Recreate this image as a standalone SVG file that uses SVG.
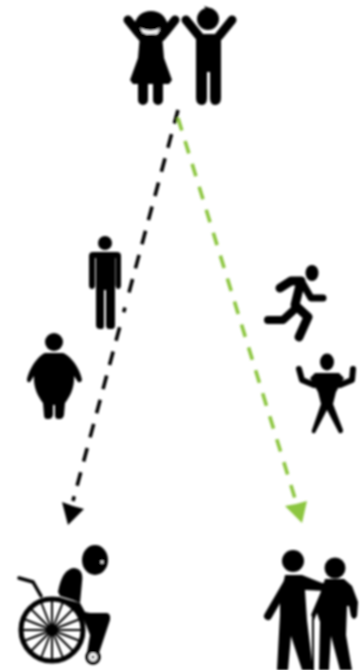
<svg xmlns="http://www.w3.org/2000/svg" width="363" height="670" viewBox="0 0 363 670">
<style>
.k{fill:#000}
.s{fill:none;stroke:#000;stroke-linecap:round;stroke-linejoin:round}
.d{fill:none;stroke-width:3.6}
</style>
<defs><filter id="b" x="-10%" y="-10%" width="120%" height="120%"><feGaussianBlur stdDeviation="0.9"/></filter></defs>
<rect width="363" height="670" fill="#fff"/>
<g id="connectors" filter="url(#b)">
<path class="d" stroke="#000" stroke-dasharray="14 11 14 11 14 11 14 11 14 11 14 11 14 11 14 15.5 5 15.5 14 11 14 11 14 11 14 11 14 11 14 11 14 11 14 11" d="M178 110L73 501"/>
<path class="k" d="M68 525L62 502L73 506L84 509Z"/>
<path class="d" stroke="#8cc63f" stroke-dasharray="13 11" d="M178 118L297 505"/>
<path fill="#8cc63f" d="M302 523L285 506L296 504L307 501Z"/>
</g>
<g id="children" filter="url(#b)">
<circle class="k" cx="151" cy="24" r="11"/>
<path class="k" d="M134 25Q138 11 151 11Q164 11 168 25L162 30H140Z"/>
<path class="s" stroke-width="9" d="M128 20L136 30L142 37M175 20L167 30L161 37"/>
<path class="k" d="M140 35H162L164 58L172 80L169 84H133L130 80L138 58Z"/>
<path fill="#fff" d="M140 28Q151 33 160 28L157 33Q151 35 143 33Z"/>
<path class="s" stroke-width="10" d="M143 82V100M158 82V100"/>
<circle class="k" cx="208" cy="19" r="11"/>
<path class="k" d="M204 6L213 9L209 14Z"/>
<path class="s" stroke-width="9" d="M186 20L199 36M232 20L219 36"/>
<path class="k" d="M196 34H221V98Q221 105 215 105Q210 105 210 98V72H207V98Q207 105 202 105Q196 105 196 98Z"/>
</g>
<g id="thin-man" filter="url(#b)">
<circle class="k" cx="105" cy="243" r="7"/>
<path class="k" d="M93 252Q89 252 89 256V285Q89 289 92 289Q95 289 95 285V258H96V325Q96 329 100 329H102Q104 329 104 325V290H106V325Q106 329 109 329H112Q115 329 115 325V258H115.500V285Q116 289 118 289Q121 289 121 285V256Q121 252 117 252Z"/>
</g>
<g id="fat-man" filter="url(#b)">
<circle class="k" cx="54" cy="342" r="9"/>
<path class="k" d="M45 353H63C73 357 81 372 82 380Q81 383 78 382L74 376C75 388 69 398 65 403L64 415Q63 419 60 419H58Q55 419 55 415V405H53V415Q52 419 49 419H47Q44 419 44 415L43 403C39 398 33 388 34 376L30 382Q27 383 27 380C28 372 36 357 45 353Z"/>
</g>
<g id="runner" filter="url(#b)">
<ellipse class="k" cx="312" cy="273" rx="6.500" ry="8"/>
<path class="s" stroke-width="9" d="M280 288L291 281H301L295 305L308 317L299 337"/>
<path class="s" stroke-width="7" d="M303 284L311 298H323"/>
<path class="s" stroke-width="8" d="M268 320H283L295 309"/>
</g>
<g id="strong-man" filter="url(#b)">
<ellipse class="k" cx="327" cy="362" rx="7" ry="8.500"/>
<path class="s" stroke-width="6" d="M299 369L302 380L314 385M353 369L352 380L340 385"/>
<path class="k" d="M315 373H339L344 378L336 392L333 404L343 430Q343 434 339 433L327 410L315 433Q311 434 312 430L321 404L318 392L310 378Z"/>
</g>
<g id="wheelchair" filter="url(#b)">
<ellipse class="k" cx="95" cy="560" rx="13" ry="15"/>
<circle cx="102" cy="562" r="1.500" fill="#fff"/>
<path class="k" d="M58 592Q62 569 74 568Q84 569 82 582L80 603L73 600L60 596Z"/>
<path class="s" stroke-width="3.500" d="M19 578L33 582L41 596"/>
<circle cx="52" cy="630" r="31" fill="none" stroke="#000" stroke-width="5"/>
<path class="s" stroke-width="2" d="M52 600V660M22 630H82M31 609L73 651M73 609L31 651M41 602L63 658M63 602L41 658M24 619L80 641M24 641L80 619"/>
<circle class="k" cx="52" cy="630" r="6"/>
<path class="k" d="M58 597L80 603L85 612L90 613H107Q111 614 110 620L99 653H87L90 635L86 625C82 614 72 606 58 600Z"/>
<circle cx="93" cy="657" r="6" fill="#fff" stroke="#000" stroke-width="3.500"/>
<circle class="k" cx="93" cy="657" r="1.500"/>
</g>
<g id="elderly" filter="url(#b)">
<circle class="k" cx="293" cy="561" r="11"/>
<path class="k" d="M285 575H302L322 583H326L325 591L305 590L307 620L313 670H302L291 636L288 670H277L280 615V600Z"/>
<path class="s" stroke-width="8" d="M289 580L268 616"/>
<circle class="k" cx="335" cy="568" r="10.500"/>
<path class="k" d="M325 579H344L352 586L358 602L357 616Q354 622 351 616L349 606L347 606L346 635L352 670H340L331 636L329 670H319L320 622L317 613L314 620L311 615L320 594Z"/>
<path class="s" stroke-width="2" d="M313 618V670"/>
</g>
</svg>
